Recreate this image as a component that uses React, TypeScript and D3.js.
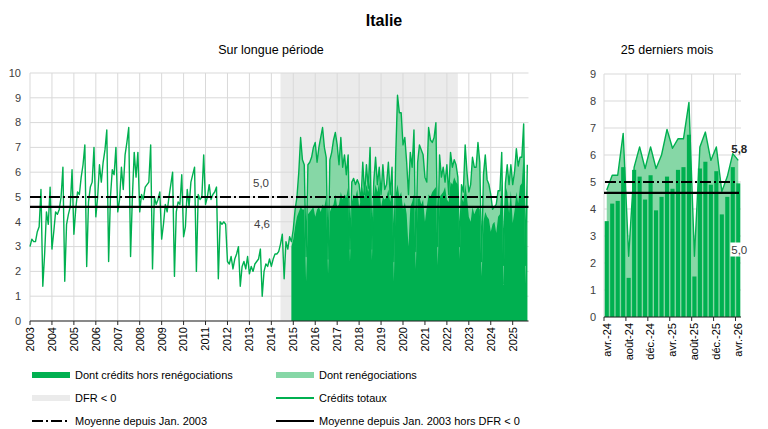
import React from "react";
import * as d3 from "d3";

// ---------- DATA ----------
// Monthly total credit flows (Crédits totaux), Jan 2003 -> Sep 2025
const totalCredits: number[] = [
  // 2003
  3.0, 3.3, 3.2, 3.2, 3.6, 3.8, 5.3, 1.4, 2.7, 4.4, 3.9, 5.4,
  // 2004
  2.9, 3.6, 4.4, 4.3, 4.5, 5.0, 6.2, 1.6, 3.9, 4.3, 4.6, 6.1,
  // 2005
  3.5, 4.5, 5.2, 5.1, 5.8, 6.3, 7.1, 2.2, 4.8, 5.4, 5.6, 7.0,
  // 2006
  4.2, 5.0, 6.3, 5.6, 6.4, 6.9, 7.7, 2.4, 5.0, 6.1, 5.9, 7.0,
  // 2007
  4.4, 4.9, 6.2, 5.3, 6.7, 7.2, 7.8, 2.6, 5.0, 6.8, 5.8, 6.8,
  // 2008
  4.4, 5.1, 4.9, 5.4, 5.5, 5.6, 7.1, 2.1, 5.0, 4.7, 4.9, 5.2,
  // 2009
  3.3, 3.9, 4.7, 4.4, 5.0, 5.5, 6.0, 1.8, 4.4, 4.8, 4.7, 5.9,
  // 2010
  3.4, 3.8, 5.3, 4.6, 5.6, 5.9, 6.2, 2.0, 5.1, 4.9, 5.0, 6.7,
  // 2011
  4.7, 5.0, 5.5, 4.9, 5.1, 5.2, 5.4, 1.7, 4.0, 3.9, 4.0, 3.9,
  // 2012
  2.4, 2.3, 2.6, 2.1, 2.5, 2.7, 3.0, 1.4, 2.2, 2.4, 2.1, 2.6,
  // 2013
  1.9, 2.2, 2.0, 2.3, 2.4, 2.5, 2.9, 1.0, 2.0, 2.3, 2.2, 2.5,
  // 2014
  2.2, 2.5, 2.7, 2.7, 2.8, 3.1, 3.5, 1.7, 3.2, 2.9, 3.4, 3.2,
  // 2015
  3.7, 4.5, 5.0, 6.0, 7.4, 6.5, 6.3, 2.6, 6.3, 6.4, 6.6, 7.0,
  // 2016
  7.2, 6.4, 7.0, 7.4, 7.8, 7.0, 6.6, 2.5, 6.5, 6.8, 7.3, 7.6,
  // 2017
  7.1, 6.3, 7.4, 6.2, 6.7, 5.9, 6.7, 2.9, 5.6, 5.75, 5.5, 5.7,
  // 2018
  5.5, 4.8, 6.4, 5.1, 6.3, 5.35, 7.0, 2.9, 5.6, 6.6, 5.5, 6.2,
  // 2019
  5.1, 6.3, 5.3, 5.5, 6.4, 5.1, 6.2, 2.4, 6.6, 9.1, 8.4, 8.4,
  // 2020
  7.1, 7.4, 6.4, 5.1, 6.8, 6.2, 7.7, 2.8, 6.4, 7.1, 6.9, 6.7,
  // 2021
  5.8, 5.6, 7.8, 7.3, 7.2, 7.4, 8.0, 3.0, 6.7, 5.8, 6.2, 5.6,
  // 2022
  6.3, 5.1, 6.8, 6.2, 6.5, 6.3, 5.8, 3.0, 5.5, 5.2, 7.1, 6.0,
  // 2023
  5.2, 5.5, 6.6, 6.2, 6.2, 7.2, 6.4, 2.4, 5.9, 6.7, 5.7, 5.5,
  // 2024
  5.1, 4.5, 4.6, 4.7, 5.25, 5.25, 6.8, 2.25, 5.55, 6.3, 5.5, 6.3,
  // 2025
  5.5, 6.0, 6.95, 6.25, 6.6, 6.6, 7.95, 2.25, 6.3,
];

// Dont crédits hors renégociations, Dec 2014 -> Sep 2025
const horsRenegStartYear = 2014;
const horsRenegStartMonth = 12;
const horsReneg: number[] = [
  // Dec 2014
  3.0,
  // 2015
  3.3, 3.8, 4.2, 4.4, 4.6, 4.5, 4.5, 1.6, 4.3, 4.4, 4.5, 4.6,
  // 2016
  4.2, 4.5, 4.6, 4.4, 4.7, 4.6, 5.0, 1.9, 4.4, 4.6, 4.7, 5.1,
  // 2017
  4.6, 4.7, 5.2, 4.9, 5.1, 5.0, 5.4, 2.4, 4.8, 5.1, 5.0, 5.3,
  // 2018
  4.6, 4.9, 5.4, 5.0, 5.5, 5.2, 5.7, 2.45, 5.0, 5.5, 5.2, 5.6,
  // 2019
  4.6, 5.0, 4.9, 5.0, 5.3, 4.8, 5.4, 1.6, 5.1, 5.5, 5.0, 5.2,
  // 2020
  4.5, 4.8, 4.3, 3.0, 4.6, 4.8, 5.1, 2.1, 4.9, 5.0, 4.7, 4.9,
  // 2021
  4.0, 4.6, 5.1, 5.0, 5.2, 5.3, 5.4, 2.25, 5.0, 5.1, 5.2, 5.4,
  // 2022
  4.9, 4.8, 5.6, 5.5, 5.8, 5.6, 5.5, 2.5, 5.0, 4.8, 5.5, 5.0,
  // 2023
  4.2, 4.0, 4.6, 4.3, 4.5, 4.6, 4.5, 1.8, 4.0, 4.4, 4.2, 4.1,
  // 2024
  3.6, 3.9, 4.0, 3.55, 4.2, 4.3, 5.55, 1.45, 5.45, 5.2, 4.35, 5.25,
  // 2025
  3.95, 4.45, 5.2, 4.75, 5.45, 5.55, 6.75, 1.5, 5.5,
];

const yearLabels: string[] = d3.range(2003, 2026).map(String);
const yTicksLeft: number[] = d3.range(0, 11);
const yTicksRight: number[] = d3.range(0, 10);

// DFR < 0 period (June 2014 -> July 2022)
const dfrStart = { year: 2014, month: 6 };
const dfrEnd = { year: 2022, month: 7 };

const meanSince2003 = 5.0;
const meanExDfr = 4.6;

// 25 derniers mois
const recentLabels: string[] = [
  "avr.-24", "mai-24", "juin-24", "juil.-24", "août-24", "sept.-24", "oct.-24", "nov.-24",
  "déc.-24", "janv.-25", "févr.-25", "mars-25", "avr.-25", "mai-25", "juin-25", "juil.-25",
  "août-25", "sept.-25", "oct.-25", "nov.-25", "déc.-25", "janv.-26", "févr.-26", "mars-26", "avr.-26",
];
const recentTotal: number[] = [
  4.7, 5.25, 5.25, 6.8, 2.25, 5.55, 6.3, 5.5, 6.3, 5.5, 6.0, 6.95, 6.25,
  6.6, 6.6, 7.95, 2.25, 6.3, 6.85, 5.8, 6.3, 4.65, 5.2, 6.05, 5.8,
];
const recentHorsReneg: number[] = [
  3.55, 4.2, 4.3, 5.55, 1.45, 5.45, 5.2, 4.35, 5.25, 3.95, 4.45, 5.2, 4.75,
  5.45, 5.55, 6.75, 1.5, 5.5, 5.75, 4.9, 5.4, 3.8, 4.45, 5.55, 4.95,
];

// ---------- STYLE ----------
const DARK = "#00B050";
const LIGHT = "#86D7A6";
const SHADE = "#EBEBEB";
const GRID = "#D9D9D9";
const TXT = "#404040";
const FONT = "'Liberation Sans', Arial, sans-serif";
const DASHDOT = "11,3,2,3";

const fmt = (v: number) => v.toFixed(1).replace(".", ",");

export default function App() {
  // ---- left chart ----
  const xL = d3.scaleLinear().domain([2003, 2025.72]).range([30, 528.5]);
  const yL = d3.scaleLinear().domain([0, 10]).range([321, 73]);
  const tOf = (i: number) => 2003 + i / 12;
  const totalPts: [number, number][] = totalCredits.map((v, i) => [tOf(i), v]);
  const hrOffset = (horsRenegStartYear - 2003) * 12 + (horsRenegStartMonth - 1);
  const hrPts: [number, number][] = horsReneg.map((v, i) => [tOf(i + hrOffset), v]);
  const totalRenPts = totalPts.slice(hrOffset);

  const lineL = d3.line<[number, number]>().x((d) => xL(d[0])).y((d) => yL(d[1]));
  const areaL = d3
    .area<[number, number]>()
    .x((d) => xL(d[0]))
    .y0(yL(0))
    .y1((d) => yL(d[1]));

  const x0 = xL.range()[0];
  const x1 = xL.range()[1];
  const dfrX0 = xL(dfrStart.year + (dfrStart.month - 1) / 12);
  const dfrX1 = xL(dfrEnd.year + (dfrEnd.month - 1) / 12);

  // ---- right chart ----
  const xR = d3
    .scaleBand<string>()
    .domain(recentLabels)
    .range([604, 741])
    .paddingInner(0.25)
    .paddingOuter(0.125);
  const yR = d3.scaleLinear().domain([0, 9]).range([317, 74]);
  const cR = (l: string) => (xR(l) as number) + xR.bandwidth() / 2;
  const step = xR.step();
  const recentPts: [number, number][] = recentTotal.map((v, i) => [cR(recentLabels[i]), v]);
  const lineR = d3.line<[number, number]>().x((d) => d[0]).y((d) => yR(d[1]));
  const areaR = d3
    .area<[number, number]>()
    .x((d) => d[0])
    .y0(yR(0))
    .y1((d) => yR(d[1]));
  const rx0 = 604;
  const rx1 = 741;
  const shownIdx = recentLabels.map((_, i) => i).filter((i) => i % 4 === 0);
  const lastLabel = recentLabels[recentLabels.length - 1];
  const lastX = cR(lastLabel);

  const legendRows = [
    { y: 375, items: [
      { kind: "rect", color: DARK, label: "Dont crédits hors renégociations" },
      { kind: "rect", color: LIGHT, label: "Dont renégociations" },
    ] },
    { y: 398, items: [
      { kind: "rect", color: SHADE, label: "DFR < 0" },
      { kind: "line", color: DARK, label: "Crédits totaux" },
    ] },
    { y: 421, items: [
      { kind: "dashdot", color: "#000", label: "Moyenne depuis Jan. 2003" },
      { kind: "solid", color: "#000", label: "Moyenne depuis Jan. 2003 hors DFR < 0" },
    ] },
  ];
  const legendCols = [32, 276];

  return (
    <svg
      width={768}
      height={429}
      style={{ position: "absolute", left: 0, top: 0, background: "#fff" }}
      fontFamily={FONT}
    >
      {/* Titles */}
      <text x={384} y={26} textAnchor="middle" fontSize={16} fontWeight="bold" fill="#000">
        Italie
      </text>
      <text x={271} y={54} textAnchor="middle" fontSize={12.5} fill="#000">
        Sur longue période
      </text>
      <text x={667} y={54} textAnchor="middle" fontSize={12.5} fill="#000">
        25 derniers mois
      </text>

      {/* ===== LEFT CHART ===== */}
      <rect x={dfrX0} y={yL(10)} width={dfrX1 - dfrX0} height={yL(0) - yL(10)} fill={SHADE} />
      {yTicksLeft.map((v) => (
        <line key={"hg" + v} x1={x0} x2={x1} y1={yL(v)} y2={yL(v)} stroke={GRID} strokeWidth={1} />
      ))}
      {yearLabels.map((y) => (
        <line
          key={"vg" + y}
          x1={xL(+y)}
          x2={xL(+y)}
          y1={yL(0)}
          y2={yL(10)}
          stroke={GRID}
          strokeWidth={1}
        />
      ))}
      <path d={areaL(totalRenPts) || ""} fill={LIGHT} />
      <path d={areaL(hrPts) || ""} fill={DARK} />
      <path d={lineL(totalPts) || ""} fill="none" stroke={DARK} strokeWidth={1.4} strokeLinejoin="round" />
      <line x1={x0} x2={x1} y1={yL(meanSince2003)} y2={yL(meanSince2003)} stroke="#000" strokeWidth={1.8} strokeDasharray={DASHDOT} />
      <line x1={x0} x2={x1} y1={yL(meanExDfr)} y2={yL(meanExDfr)} stroke="#000" strokeWidth={2.2} />
      <text x={261} y={yL(meanSince2003) - 10} textAnchor="middle" fontSize={11.5} fill={TXT}>
        {fmt(meanSince2003)}
      </text>
      <text x={262} y={yL(meanExDfr) + 21} textAnchor="middle" fontSize={11.5} fill={TXT}>
        {fmt(meanExDfr)}
      </text>
      {/* x axis */}
      <line x1={x0} x2={x1} y1={yL(0)} y2={yL(0)} stroke="#262626" strokeWidth={1.2} />
      {yearLabels.map((y) => (
        <g key={"xt" + y}>
          <line x1={xL(+y)} x2={xL(+y)} y1={yL(0)} y2={yL(0) + 4} stroke="#262626" />
          <text
            transform={`translate(${xL(+y)},${yL(0) + 6}) rotate(-90)`}
            textAnchor="end"
            dy="0.35em"
            fontSize={11}
            fill="#000"
          >
            {y}
          </text>
        </g>
      ))}
      {yTicksLeft.map((v) => (
        <text key={"yl" + v} x={21} y={yL(v)} dy="0.35em" textAnchor="end" fontSize={11} fill={TXT}>
          {v}
        </text>
      ))}

      {/* ===== RIGHT CHART ===== */}
      {yTicksRight.map((v) => (
        <line key={"rhg" + v} x1={rx0} x2={rx1} y1={yR(v)} y2={yR(v)} stroke={GRID} strokeWidth={1} />
      ))}
      {shownIdx.map((i) => {
        const gx = cR(recentLabels[i]) - step / 2;
        return (
          <line key={"rvg" + i} x1={gx} x2={gx} y1={yR(0)} y2={yR(9)} stroke={GRID} strokeWidth={1} />
        );
      })}
      <path d={areaR(recentPts) || ""} fill={LIGHT} />
      {recentHorsReneg.map((v, i) => (
        <rect
          key={"rb" + i}
          x={xR(recentLabels[i])}
          y={yR(v)}
          width={xR.bandwidth()}
          height={yR(0) - yR(v)}
          fill={DARK}
        />
      ))}
      <path d={lineR(recentPts) || ""} fill="none" stroke={DARK} strokeWidth={1.4} strokeLinejoin="round" />
      <line x1={rx0 + 1} x2={lastX - 3} y1={yR(meanSince2003)} y2={yR(meanSince2003)} stroke="#000" strokeWidth={1.8} strokeDasharray={DASHDOT} />
      <line x1={rx0} x2={rx1 - 2} y1={yR(meanExDfr)} y2={yR(meanExDfr)} stroke="#000" strokeWidth={2.2} />
      <text
        x={lastX + 1}
        y={yR(recentTotal[recentTotal.length - 1]) - 7}
        textAnchor="middle"
        fontSize={11.5}
        fontWeight="bold"
        fill="#262626"
      >
        {fmt(recentTotal[recentTotal.length - 1])}
      </text>
      <rect x={lastX - 8} y={yR(2.5) - 7} width={17} height={14} fill="#fff" />
      <text x={lastX + 1} y={yR(2.5)} dy="0.35em" textAnchor="middle" fontSize={11.5} fill={TXT}>
        {fmt(recentHorsReneg[recentHorsReneg.length - 1])}
      </text>
      <line x1={rx0} x2={rx1} y1={yR(0)} y2={yR(0)} stroke="#262626" strokeWidth={1.2} />
      {shownIdx.map((i) => {
        const gx = cR(recentLabels[i]) - step / 2;
        return <line key={"rtk" + i} x1={gx} x2={gx} y1={yR(0)} y2={yR(0) + 4} stroke="#262626" />;
      })}
      {shownIdx.map((i) => (
        <text
          key={"rxl" + i}
          transform={`translate(${cR(recentLabels[i])},${yR(0) + 6}) rotate(-90)`}
          textAnchor="end"
          dy="0.35em"
          fontSize={11}
          fill="#000"
        >
          {recentLabels[i]}
        </text>
      ))}
      {yTicksRight.map((v) => (
        <text key={"ryl" + v} x={596} y={yR(v)} dy="0.35em" textAnchor="end" fontSize={11} fill={TXT}>
          {v}
        </text>
      ))}

      {/* ===== LEGEND ===== */}
      {legendRows.map((row, ri) =>
        row.items.map((it, ci) => {
          const lx = legendCols[ci];
          const sw = 38;
          let sym: React.ReactNode = null;
          if (it.kind === "rect") {
            sym = <rect x={lx} y={row.y - 3} width={sw} height={6} fill={it.color} />;
          } else if (it.kind === "line") {
            sym = <line x1={lx} x2={lx + sw} y1={row.y} y2={row.y} stroke={it.color} strokeWidth={2} />;
          } else if (it.kind === "dashdot") {
            sym = (
              <line x1={lx} x2={lx + sw} y1={row.y} y2={row.y} stroke={it.color} strokeWidth={2} strokeDasharray={DASHDOT} />
            );
          } else {
            sym = <line x1={lx} x2={lx + sw} y1={row.y} y2={row.y} stroke={it.color} strokeWidth={2.2} />;
          }
          return (
            <g key={"lg" + ri + "-" + ci}>
              {sym}
              <text x={lx + sw + 5} y={row.y} dy="0.35em" fontSize={11} fill="#000">
                {it.label}
              </text>
            </g>
          );
        })
      )}
    </svg>
  );
}
